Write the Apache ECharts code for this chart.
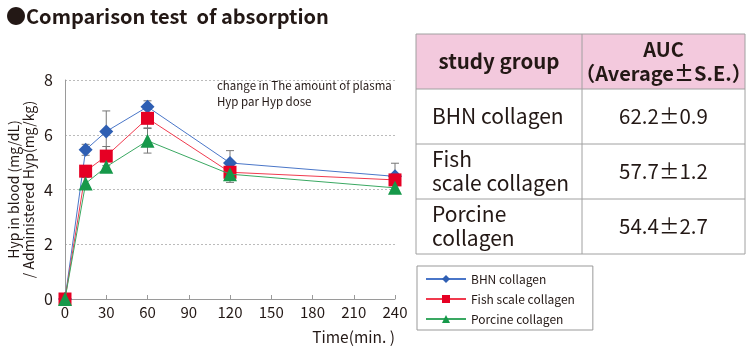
<!DOCTYPE html>
<html><head><meta charset="utf-8">
<script src="https://cdn.jsdelivr.net/npm/echarts@6/dist/echarts.min.js"></script>
<style>html,body{margin:0;padding:0;background:#fff}#c{width:750px;height:350px}</style>
</head><body><div id="c"></div>
<script>
const times = [0, 15, 30, 60, 120, 240];
const xTicks = [0, 30, 60, 90, 120, 150, 180, 210, 240];
const seriesNames = ['BHN collagen', 'Fish scale collagen', 'Porcine collagen'];
const bhn = [0, 5.45, 6.12, 7.02, 4.97, 4.48];
const fish = [0, 4.67, 5.22, 6.6, 4.63, 4.35];
const porcine = [0, 4.22, 4.83, 5.78, 4.56, 4.06];
const bhnErr = [0, 0.2, 0.75, 0.22, 0.45, 0.48];
const fishErr = [0, 0.2, 0.35, 0.35, 0.3, 0.2];
const porcineErr = [0, 0.22, 0.2, 0.45, 0.3, 0.2];
const tableHeader = ['study group', 'AUC\n（Average±S.E.）'];
const tableGroups = ['BHN collagen', 'Fish\nscale collagen', 'Porcine\ncollagen'];
const tableAUC = ['62.2±0.9', '57.7±1.2', '54.4±2.7'];

const FONT = '"Noto Sans CJK JP", "Noto Sans", sans-serif';
const colors = ['#2f5fb3', '#e60024', '#16994a'];
const lineColors = ['#4a76c8', '#f03a4e', '#3aa862'];
const symbols = ['diamond', 'rect', 'triangle'];
const symSizes = [14, 13, 14];

const chart = echarts.init(document.getElementById('c'));

function errSeries(vals, errs) {
  return {
    type: 'custom', silent: true, z: 1,
    data: times.map((t, i) => [t, vals[i], errs[i]]),
    renderItem: function (params, api) {
      const t = api.value(0), v = api.value(1), e = api.value(2);
      if (!e) return null;
      const top = api.coord([t, v + e]);
      const bot = api.coord([t, v - e]);
      const w = 4;
      const st = { stroke: '#777', lineWidth: 1 };
      return { type: 'group', children: [
        { type: 'line', shape: { x1: top[0], y1: top[1], x2: bot[0], y2: bot[1] }, style: st },
        { type: 'line', shape: { x1: top[0] - w, y1: top[1], x2: top[0] + w, y2: top[1] }, style: st },
        { type: 'line', shape: { x1: bot[0] - w, y1: bot[1], x2: bot[0] + w, y2: bot[1] }, style: st }
      ]};
    }
  };
}

const dataSets = [bhn, fish, porcine];
const errSets = [bhnErr, fishErr, porcineErr];
const series = [];
errSets.forEach((e, k) => series.push(errSeries(dataSets[k], e)));
dataSets.forEach((d, k) => series.push({
  name: seriesNames[k], type: 'line', z: 3 + k,
  data: times.map((t, i) => [t, d[i]]),
  symbol: symbols[k], symbolSize: symSizes[k],
  itemStyle: { color: colors[k] },
  lineStyle: { color: lineColors[k], width: 1 }
}));

// Table graphics
const tx = 416, tw = 329, colX = 582, rowYs = [34, 89, 144, 199, 254];
const graphics = [];
graphics.push({ type: 'text', left: 6, top: 6, style: { text: '●Comparison test  of absorption', font: 'bold 20px ' + FONT, fill: '#231815' } });
graphics.push({ type: 'text', left: 217, top: 78, style: { text: 'change in The amount of plasma\nHyp par Hyp dose', font: '11.5px ' + FONT, fill: '#231815', lineHeight: 16 } });
graphics.push({ type: 'rect', shape: { x: tx, y: rowYs[0], width: tw, height: rowYs[1] - rowYs[0] }, style: { fill: '#f3c9dd' } });
rowYs.forEach(y => graphics.push({ type: 'line', shape: { x1: tx, y1: y, x2: tx + tw, y2: y }, style: { stroke: '#a0a0a0', lineWidth: 1 } }));
[tx, colX, tx + tw].forEach(x => graphics.push({ type: 'line', shape: { x1: x, y1: rowYs[0], x2: x, y2: rowYs[4] }, style: { stroke: '#a0a0a0', lineWidth: 1 } }));
graphics.push({ type: 'text', x: (tx + colX) / 2, y: (rowYs[0] + rowYs[1]) / 2, style: { text: tableHeader[0], font: 'bold 20.5px ' + FONT, fill: '#231815', align: 'center', verticalAlign: 'middle' } });
graphics.push({ type: 'text', x: (colX + tx + tw) / 2, y: (rowYs[0] + rowYs[1]) / 2, style: { text: tableHeader[1], font: 'bold 20px ' + FONT, fill: '#231815', align: 'center', verticalAlign: 'middle', lineHeight: 24 } });
tableGroups.forEach((g, i) => {
  const cy = (rowYs[i + 1] + rowYs[i + 2]) / 2;
  graphics.push({ type: 'text', x: tx + 16, y: cy, style: { text: g, font: '21px ' + FONT, fill: '#231815', align: 'left', verticalAlign: 'middle', lineHeight: 24 } });
  graphics.push({ type: 'text', x: (colX + tx + tw) / 2, y: cy, style: { text: tableAUC[i], font: '20.5px ' + FONT, fill: '#231815', align: 'center', verticalAlign: 'middle' } });
});

chart.setOption({
  animation: false,
  textStyle: { fontFamily: FONT },
  grid: { left: 65, right: 355, top: 80, bottom: 51, containLabel: false },
  legend: {
    orient: 'vertical', left: 417, top: 266,
    data: seriesNames,
    borderColor: '#999', borderWidth: 1, padding: [7, 18, 5, 8],
    itemWidth: 40, itemHeight: 10, itemGap: 8,
    textStyle: { fontSize: 12, color: '#231815', fontFamily: FONT }
  },
  xAxis: {
    type: 'value', min: 0, max: 240, interval: 30,
    name: 'Time(min. )', nameLocation: 'end', nameGap: 0,
    nameTextStyle: { fontSize: 15.5, color: '#231815', align: 'right', verticalAlign: 'top', padding: [30, 0, 0, 0] },
    axisLine: { show: true, lineStyle: { color: '#9a9a9a' } },
    axisTick: { show: true, inside: true, length: 4, lineStyle: { color: '#9a9a9a' } },
    axisLabel: { fontSize: 15, color: '#231815', margin: 6 },
    splitLine: { show: false }
  },
  yAxis: {
    type: 'value', min: 0, max: 8, interval: 2,
    name: 'Hyp in blood (mg/dL)\n/ Administered Hyp(mg/kg)', nameLocation: 'middle', nameGap: 29,
    nameTextStyle: { fontSize: 14, color: '#231815', lineHeight: 15 },
    axisLine: { show: true, lineStyle: { color: '#9a9a9a' } },
    axisTick: { show: false },
    axisLabel: { fontSize: 16, color: '#231815', margin: 12 },
    splitLine: { show: true, lineStyle: { color: '#bbb', type: [2, 2] } }
  },
  series: series,
  graphic: graphics
});
</script></body></html>
